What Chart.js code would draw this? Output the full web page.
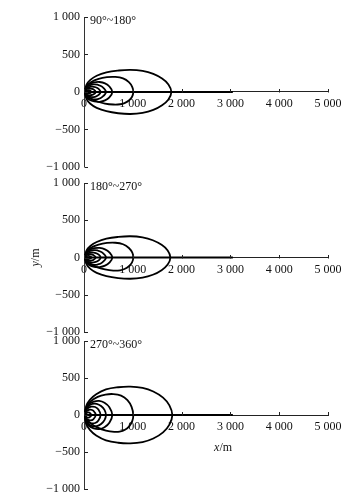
<!DOCTYPE html>
<html>
<head>
<meta charset="utf-8">
<script src="https://cdn.jsdelivr.net/npm/chart.js@4.4.1/dist/chart.umd.min.js"></script>
<style>
  html, body { margin: 0; padding: 0; background: #fff; }
  body { width: 357px; height: 503px; position: relative; overflow: hidden; }
  .panel { position: absolute; left: 0; width: 357px; }
  canvas { display: block; }
</style>
</head>
<body>
<div class="panel" id="w1" style="top:0px;height:178px"><canvas id="c1"></canvas></div>
<div class="panel" id="w2" style="top:166px;height:178px"><canvas id="c2"></canvas></div>
<div class="panel" id="w3" style="top:324px;height:179px"><canvas id="c3"></canvas></div>
<script>
// ---- axis ticks ----
const xTicks = [0, 1000, 2000, 3000, 4000, 5000];
const yTicks = [-1000, -500, 0, 500, 1000];
const panelTitles = ['90°~180°', '180°~270°', '270°~360°'];

// ---- straight track along y = 0 (m) ----
const trackLine = [[0, 0], [3050, 0]];

// ---- panel 1 (90°~180°) loops, [x, y] in m ----
const p1A = [[20,0],[50,95],[130,160],[260,215],[460,260],[700,285],[950,295],[1200,280],[1420,240],[1600,178],[1730,100],[1790,0],[1730,-100],[1600,-178],[1420,-240],[1200,-280],[950,-295],[700,-285],[460,-258],[260,-213],[130,-158],[50,-93],[20,0]];
const p1B = [[20,0],[50,75],[140,130],[300,175],[470,197],[640,200],[800,180],[920,130],[990,65],[1010,0],[985,-65],[920,-115],[830,-150],[740,-165],[600,-168],[430,-155],[260,-125],[120,-80],[40,-35],[20,0]];
const p1C = [[20,0],[45,65],[110,105],[210,128],[320,132],[430,114],[520,72],[580,0],[520,-72],[430,-114],[320,-132],[210,-128],[110,-105],[45,-65],[20,0]];
const p1D = [[20,0],[40,52],[100,84],[190,100],[280,96],[370,70],[450,0],[370,-70],[280,-96],[190,-100],[100,-84],[40,-52],[20,0]];
const p1E = [[20,0],[40,38],[90,60],[160,70],[240,62],[300,40],[340,0],[300,-40],[240,-62],[160,-70],[90,-60],[40,-38],[20,0]];
const p1F = [[20,0],[40,28],[80,42],[130,45],[190,35],[240,0],[190,-35],[130,-45],[80,-42],[40,-28],[20,0]];
const p1G = [[30,0],[50,18],[90,24],[130,15],[150,0],[130,-15],[90,-24],[50,-18],[30,0]];

// ---- panel 2 (180°~270°) loops ----
const p2A = [[20,0],[50,92],[130,155],[260,208],[460,252],[700,276],[950,285],[1200,270],[1410,232],[1590,170],[1715,95],[1770,0],[1715,-95],[1590,-170],[1410,-232],[1200,-270],[950,-285],[700,-276],[460,-250],[260,-206],[130,-153],[50,-90],[20,0]];
const p2B = [[20,0],[50,75],[140,130],[300,173],[470,195],[640,198],[800,178],[920,128],[990,64],[1010,0],[985,-66],[920,-118],[830,-155],[740,-172],[600,-175],[430,-160],[260,-128],[120,-82],[40,-36],[20,0]];
const p2C = [[20,0],[45,62],[110,102],[210,125],[320,128],[430,110],[520,70],[580,0],[520,-70],[430,-110],[320,-128],[210,-125],[110,-102],[45,-62],[20,0]];
const p2D = [[20,0],[40,50],[100,82],[190,98],[280,94],[370,68],[450,0],[370,-68],[280,-94],[190,-98],[100,-82],[40,-50],[20,0]];
const p2E = [[20,0],[40,37],[90,58],[160,68],[240,60],[300,39],[340,0],[300,-39],[240,-60],[160,-68],[90,-58],[40,-37],[20,0]];
const p2F = [[20,0],[40,27],[80,41],[130,44],[190,34],[240,0],[190,-34],[130,-44],[80,-41],[40,-27],[20,0]];
const p2G = [[30,0],[50,17],[90,23],[130,14],[150,0],[130,-14],[90,-23],[50,-17],[30,0]];

// ---- panel 3 (270°~360°) loops ----
const p3A = [[20,0],[45,120],[120,205],[250,280],[450,345],[700,375],[950,383],[1200,366],[1420,318],[1620,235],[1750,130],[1810,0],[1750,-130],[1620,-235],[1420,-318],[1200,-366],[950,-383],[700,-375],[450,-342],[250,-277],[120,-202],[45,-118],[20,0]];
const p3B = [[20,0],[45,100],[130,180],[280,245],[440,276],[600,283],[760,262],[890,200],[975,110],[1010,0],[990,-80],[930,-150],[840,-200],[730,-225],[620,-228],[450,-210],[280,-170],[130,-110],[45,-50],[20,0]];
const p3C = [[20,0],[40,85],[100,145],[200,180],[310,190],[420,165],[520,105],[580,0],[520,-105],[420,-165],[310,-190],[200,-180],[100,-145],[40,-85],[20,0]];
const p3D = [[20,0],[35,70],[90,120],[170,150],[260,152],[350,122],[420,70],[450,0],[420,-70],[350,-122],[260,-152],[170,-150],[90,-120],[35,-70],[20,0]];
const p3E = [[20,0],[35,55],[80,92],[150,112],[230,108],[295,75],[340,0],[295,-75],[230,-108],[150,-112],[80,-92],[35,-55],[20,0]];
const p3F = [[20,0],[35,38],[75,62],[130,72],[190,58],[240,0],[190,-58],[130,-72],[75,-62],[35,-38],[20,0]];
const p3G = [[30,0],[50,26],[90,36],[130,22],[150,0],[130,-22],[90,-36],[50,-26],[30,0]];

const panelLoops = [
  [p1A, p1B, p1C, p1D, p1E, p1F, p1G],
  [p2A, p2B, p2C, p2D, p2E, p2F, p2G],
  [p3A, p3B, p3C, p3D, p3E, p3F, p3G]
];

const SERIF = '"Liberation Serif", "DejaVu Serif", serif';
const fmt = v => {
  const s = Math.abs(v).toString().replace(/\B(?=(\d{3})+(?!\d))/g, ' ');
  return (v < 0 ? '\u2212' : '') + s;
};

const decorPlugin = {
  id: 'decor',
  afterDraw(chart, args, opts) {
    const { ctx, chartArea, scales: { x, y } } = chart;
    ctx.save();
    ctx.strokeStyle = '#222';
    ctx.lineWidth = 1;
    const y0 = Math.round(y.getPixelForValue(0)) + 0.5;
    ctx.beginPath();
    xTicks.forEach(v => {
      const px = Math.round(x.getPixelForValue(v)) + 0.5;
      ctx.moveTo(px, y0); ctx.lineTo(px, y0 - 3.5);
    });
    yTicks.forEach(v => {
      const py = Math.round(y.getPixelForValue(v)) + 0.5;
      const lx = chartArea.left + 0.5;
      ctx.moveTo(lx, py); ctx.lineTo(lx + 3.5, py);
    });
    ctx.stroke();
    // panel title
    ctx.fillStyle = '#111';
    ctx.font = '12px ' + SERIF;
    ctx.textBaseline = 'top';
    ctx.textAlign = 'left';
    ctx.fillText(opts.title, chartArea.left + 6, chartArea.top - 2);
    // axis names
    if (opts.yName) {
      ctx.save();
      ctx.translate(chartArea.left - 48, y.getPixelForValue(0));
      ctx.rotate(-Math.PI / 2);
      ctx.textBaseline = 'middle';
      ctx.font = 'italic 12px ' + SERIF;
      const w1 = ctx.measureText('y').width;
      ctx.font = '12px ' + SERIF;
      const w2 = ctx.measureText('/m').width;
      let sx = -(w1 + w2) / 2;
      ctx.font = 'italic 12px ' + SERIF;
      ctx.fillText('y', sx, 0);
      ctx.font = '12px ' + SERIF;
      ctx.fillText('/m', sx + w1, 0);
      ctx.restore();
    }
    if (opts.xName) {
      const cx = x.getPixelForValue(2850);
      const cy = y0 + 32;
      ctx.textBaseline = 'middle';
      ctx.font = 'italic 12px ' + SERIF;
      const w1 = ctx.measureText('x').width;
      ctx.font = '12px ' + SERIF;
      const w2 = ctx.measureText('/m').width;
      let sx = cx - (w1 + w2) / 2;
      ctx.font = 'italic 12px ' + SERIF;
      ctx.fillText('x', sx, cy);
      ctx.font = '12px ' + SERIF;
      ctx.fillText('/m', sx + w1, cy);
    }
    ctx.restore();
  }
};

function makePanel(id, idx, padTop, padBottom, extra) {
  const datasets = panelLoops[idx].map(pts => ({
    data: pts.map(([a, b]) => ({ x: a, y: b })),
    showLine: true,
    borderColor: '#000',
    borderWidth: 1.8,
    pointRadius: 0,
    tension: 0.4,
    fill: false
  }));
  datasets.push({
    data: trackLine.map(([a, b]) => ({ x: a, y: b })),
    showLine: true,
    borderColor: '#000',
    borderWidth: 2,
    pointRadius: 0,
    tension: 0,
    fill: false
  });
  return new Chart(document.getElementById(id), {
    type: 'scatter',
    data: { datasets },
    options: {
      responsive: true,
      maintainAspectRatio: false,
      animation: false,
      events: [],
      layout: { padding: { top: padTop, bottom: padBottom, left: 0, right: 29 } },
      plugins: {
        legend: { display: false },
        tooltip: { enabled: false },
        decor: Object.assign({ title: panelTitles[idx] }, extra)
      },
      scales: {
        x: {
          type: 'linear',
          min: 0, max: 5000,
          position: { y: 0 },
          grid: { display: false, drawTicks: false },
          border: { display: true, color: '#222', width: 1 },
          afterBuildTicks: s => { s.ticks = xTicks.map(v => ({ value: v })); },
          ticks: {
            callback: v => fmt(v),
            color: '#111',
            font: { family: SERIF, size: 12 },
            padding: 5,
            maxRotation: 0,
            autoSkip: false
          }
        },
        y: {
          type: 'linear',
          min: -1000, max: 1000,
          grid: { display: false, drawTicks: false },
          border: { display: true, color: '#333', width: 1 },
          afterBuildTicks: s => { s.ticks = yTicks.map(v => ({ value: v })); },
          afterFit: s => { s.width = 84; },
          ticks: {
            callback: v => fmt(v),
            color: '#111',
            font: { family: SERIF, size: 12 },
            padding: 4,
            autoSkip: false
          }
        }
      }
    },
    plugins: [decorPlugin]
  });
}

makePanel('c1', 0, 17, 11, {});
makePanel('c2', 1, 17, 12, { yName: true });
makePanel('c3', 2, 17, 14, { xName: true });
</script>
</body>
</html>
